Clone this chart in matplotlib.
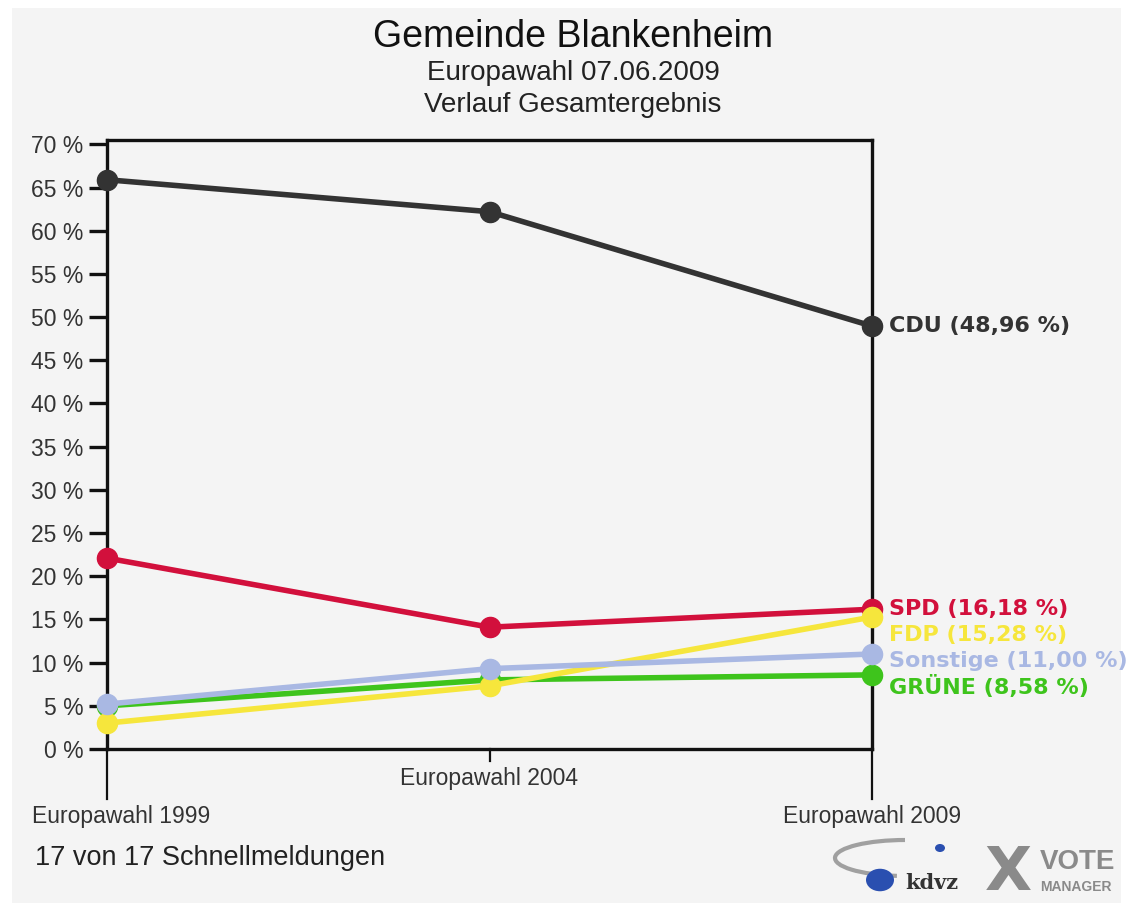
import matplotlib
matplotlib.use("Agg")
import matplotlib.pyplot as plt
from matplotlib.patches import Rectangle, Circle, Arc
import matplotlib.transforms as mtransforms

# ---------------- data ----------------
categories = ["Europawahl 1999", "Europawahl 2004", "Europawahl 2009"]
parties = ["CDU", "SPD", "GRÜNE", "FDP", "Sonstige"]
cdu = [65.9, 62.2, 48.96]
spd = [22.1, 14.1, 16.18]
gruene = [5.0, 8.0, 8.58]
fdp = [3.0, 7.3, 15.28]
sonstige = [5.2, 9.3, 11.00]
final_labels = ["48,96", "16,18", "8,58", "15,28", "11,00"]
colors = ["#333333", "#d2103c", "#3ec41c", "#f6e63c", "#a9b8e3"]
yticks = list(range(0, 75, 5))

series = [cdu, spd, gruene, fdp, sonstige]

W, H = 1133, 911
fig = plt.figure(figsize=(W / 100, H / 100), dpi=100, facecolor="white")
fig.patches.append(Rectangle((12 / W, 8 / H), (W - 24) / W, (H - 16) / H,
                             transform=fig.transFigure, facecolor="#f4f4f4",
                             edgecolor="none", zorder=-10))

left, right, top, bottom = 107, 872, 140, 749
ax = fig.add_axes([left / W, (H - bottom) / H, (right - left) / W, (bottom - top) / H])
ax.set_facecolor("#f4f4f4")
ax.set_xlim(0, len(categories) - 1)
ax.set_ylim(0, 70.5)

for s in ax.spines.values():
    s.set_linewidth(2.4)
    s.set_color("#111111")

ax.set_yticks(yticks)
ax.set_yticklabels([f"{v} %" for v in yticks], fontsize=16.5, color="#333333",
                   family="Liberation Sans")
ax.tick_params(axis="y", length=13, width=2.4, color="#111111", pad=4)
ax.set_xticks([])

x = list(range(len(categories)))
for vals, c in zip(series, colors):
    ax.plot(x, vals, color=c, lw=4, marker="o", ms=14.5, clip_on=False,
            solid_capstyle="round", zorder=3)

# category tick lines and labels (staggered)
trans = mtransforms.blended_transform_factory(ax.transData, ax.transAxes)
tick_len = [50, 12, 50]
for i, cat in enumerate(categories):
    L = tick_len[i] / (bottom - top)
    ax.plot([i, i], [0, -L], transform=trans, color="#111111", lw=1.6, clip_on=False)
    dy = -(tick_len[i] + 18)
    dx = 14 if i == 0 else 0
    ax.annotate(cat, xy=(i, 0), xycoords=trans, xytext=(dx * 0.72, dy * 0.72),
                textcoords="offset points", ha="center", va="center", fontsize=16.5,
                color="#333333", family="Liberation Sans")

# end labels with simple collision avoidance
order = sorted(range(len(parties)), key=lambda k: -series[k][-1])
prev = None
min_gap = 3.0
for k in order:
    yv = series[k][-1]
    if prev is not None and yv > prev - min_gap:
        yv = prev - min_gap
    prev = yv
    ax.annotate(f"{parties[k]} ({final_labels[k]} %)", xy=(x[-1], yv),
                xytext=(12, 0), textcoords="offset points", va="center", ha="left",
                fontsize=16, fontweight="bold", color=colors[k], family="DejaVu Sans",
                annotation_clip=False)

# titles
fig.text(573 / W, 1 - 37 / H, "Gemeinde Blankenheim", ha="center", va="center",
         fontsize=27, color="#111111", family="Liberation Sans")
fig.text(573 / W, 1 - 73 / H, "Europawahl 07.06.2009", ha="center", va="center",
         fontsize=20, color="#222222", family="Liberation Sans")
fig.text(573 / W, 1 - 105 / H, "Verlauf Gesamtergebnis", ha="center", va="center",
         fontsize=20, color="#222222", family="Liberation Sans")

fig.text(35 / W, 1 - 858 / H, "17 von 17 Schnellmeldungen", ha="left", va="center",
         fontsize=19.5, color="#222222", family="Liberation Sans")

# logo approximation
fig.patches.append(Arc((905 / W, 1 - 858 / H), 140 / W, 36 / H, theta1=90, theta2=250,
                       transform=fig.transFigure, color="#a0a0a0", lw=3, zorder=2))
fig.patches.append(Circle((940 / W, 1 - 848 / H), 5 / W, transform=fig.transFigure,
                          facecolor="#2a4fb0", edgecolor="none", zorder=2))
fig.patches.append(Circle((880 / W, 1 - 880 / H), 14 / W, transform=fig.transFigure,
                          facecolor="#2a4fb0", edgecolor="none", zorder=2))
fig.text(905 / W, 1 - 883 / H, "kdvz", ha="left", va="center", fontsize=15,
         fontweight="bold", family="DejaVu Serif", color="#333333")
fig.text(1008 / W, 1 - 873 / H, "X", ha="center", va="center", fontsize=44,
         fontweight="bold", family="DejaVu Sans", color="#8a8a8a")
fig.text(1040 / W, 1 - 862 / H, "VOTE", ha="left", va="center", fontsize=20,
         fontweight="bold", family="Liberation Sans", color="#8a8a8a")
fig.text(1040 / W, 1 - 887 / H, "MANAGER", ha="left", va="center", fontsize=10,
         fontweight="bold", family="Liberation Sans", color="#8a8a8a")

fig.savefig("out.png", dpi=100, facecolor="white")
